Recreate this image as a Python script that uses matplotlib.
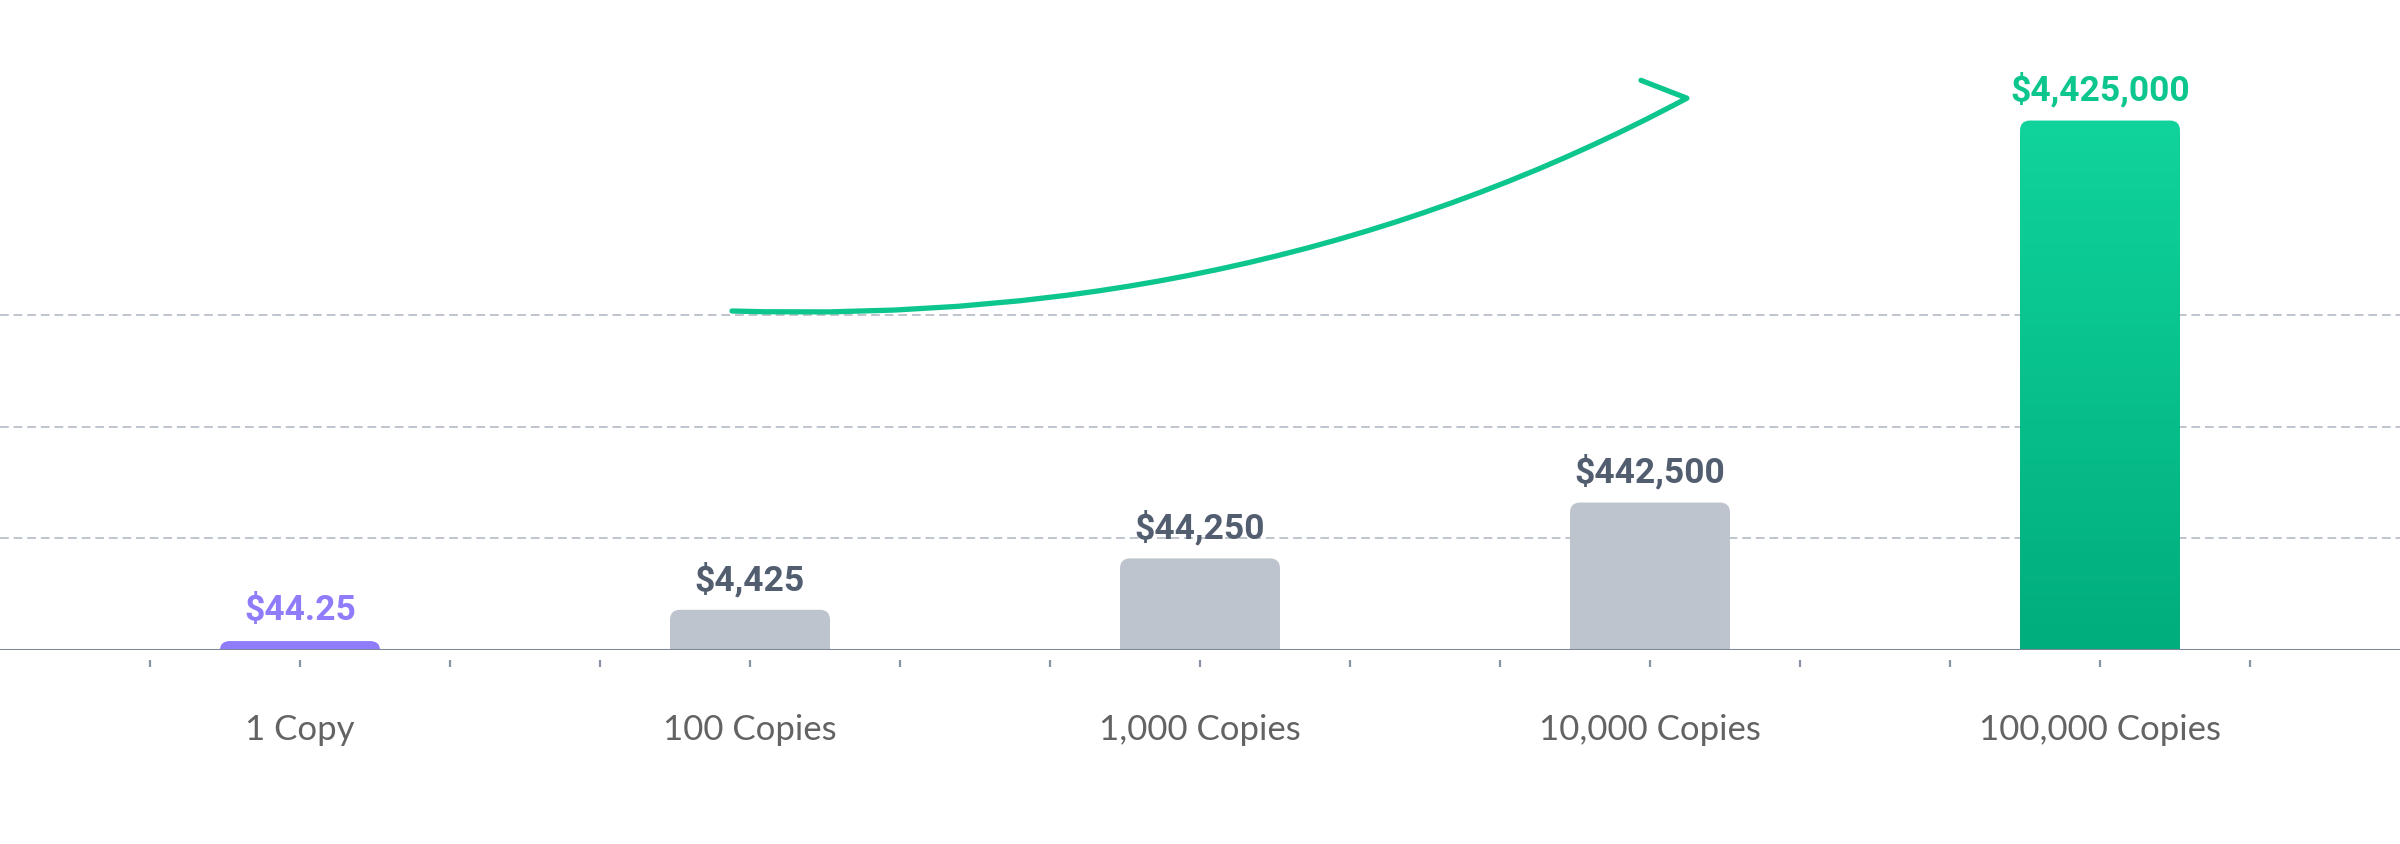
import numpy as np
import matplotlib
matplotlib.use('Agg')
from matplotlib import pyplot as plt
from matplotlib.path import Path
from matplotlib.patches import PathPatch
from matplotlib.colors import LinearSegmentedColormap

plt.rcParams['font.family'] = ['Lato', 'DejaVu Sans']

# 数据
categories = ['1 Copy', '100 Copies', '1,000 Copies', '10,000 Copies', '100,000 Copies']
prices = [44.25, 4425, 44250, 442500, 4425000]
bar_heights = [0.08, 0.36, 0.82, 1.32, 4.74]   # 图中柱子的视觉高度（网格单位）
grid_levels = [1, 2, 3]

bar_colors = ['#8E7CFB', '#BDC4CE', '#BDC4CE', '#BDC4CE', None]
label_colors = ['#8E7CFB', '#525E70', '#525E70', '#525E70', '#0CC68E']


def fmt_price(v):
    if float(v).is_integer():
        return f'${int(v):,}'
    return f'${v:,.2f}'


def rounded_bar(x0, w, h, rx, ry):
    ry = min(ry, h)
    verts = [(x0, 0), (x0, h - ry), (x0, h), (x0 + rx, h),
             (x0 + w - rx, h), (x0 + w, h), (x0 + w, h - ry),
             (x0 + w, 0), (x0, 0)]
    codes = [Path.MOVETO, Path.LINETO, Path.CURVE3, Path.CURVE3,
             Path.LINETO, Path.CURVE3, Path.CURVE3,
             Path.LINETO, Path.CLOSEPOLY]
    return Path(verts, codes)


fig = plt.figure(figsize=(24, 8.44), dpi=100)
ax = fig.add_axes([0, 194 / 844, 1, 650 / 844])
ax.set_xlim(-2 / 3, 14 / 3)
ax.set_ylim(0, 650 / 111.7)
ax.axis('off')

# 虚线网格
for g in grid_levels:
    ax.axhline(g, color='#BFC5CF', lw=1.4, ls=(0, (4.5, 2.5)), zorder=0)

# 底线
ax.axhline(0, color='#7D889A', lw=2.2, zorder=3)

# 刻度
ticks = np.arange(-1, 14) / 3
ax.vlines(ticks, -0.09, -0.155, color='#8893A3', lw=1.6, clip_on=False)

width = 160 / 450
rx, ry = 10 / 450, 10 / 111.7
x = np.arange(len(categories))
green = LinearSegmentedColormap.from_list('g', ['#00AD7C', '#10D49B'])

for i, (h, p) in enumerate(zip(bar_heights, prices)):
    path = rounded_bar(x[i] - width / 2, width, h, rx, ry)
    if bar_colors[i] is None:
        patch = PathPatch(path, facecolor='none', edgecolor='none')
        ax.add_patch(patch)
        grad = np.linspace(0, 1, 256).reshape(-1, 1)
        im = ax.imshow(grad, cmap=green, origin='lower', aspect='auto',
                       extent=[x[i] - width / 2, x[i] + width / 2, 0, h], zorder=2)
        im.set_clip_path(patch)
    else:
        ax.add_patch(PathPatch(path, facecolor=bar_colors[i], edgecolor='none', zorder=2))
    ax.annotate(fmt_price(p), (x[i], h), xytext=(0, 22), textcoords='offset points',
                ha='center', va='center', fontsize=25.5, fontweight='bold',
                color=label_colors[i], family=['Roboto', 'DejaVu Sans'])
    ax.annotate(categories[i], (x[i], 0), xytext=(0, -57.5), textcoords='offset points',
                ha='center', va='center', fontsize=25, fontweight='normal', color='#636363')

# 增长箭头
p0, c, p2 = (0.96, 3.035), (2.131, 2.89), (3.082, 4.94)
barb = (2.98, 5.10)
curve = Path([p0, c, p2, barb], [Path.MOVETO, Path.CURVE3, Path.CURVE3, Path.LINETO])
ax.add_patch(PathPatch(curve, facecolor='none', edgecolor='#0CC68E', lw=3.8,
                       capstyle='round', joinstyle='round', zorder=4))

fig.savefig('out.png', dpi=100, facecolor='white')
